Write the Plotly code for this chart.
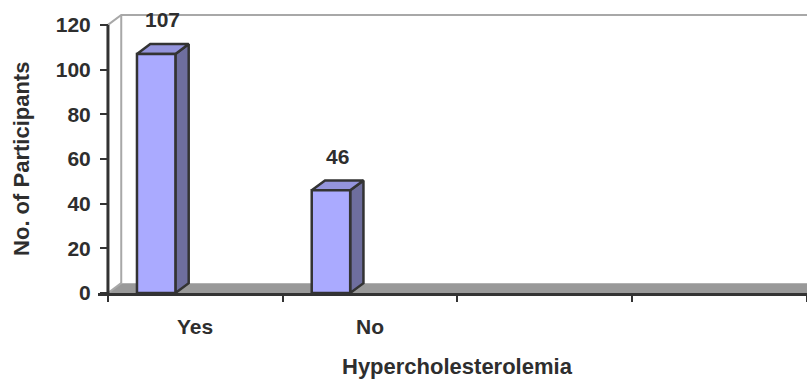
import plotly.graph_objects as go

# Data
categories = ["Yes", "No"]
participants = [107, 46]
n_slots = 4                      # category slots along the x axis (two left empty)
y_ticks = [0, 20, 40, 60, 80, 100, 120]

# 3-D look: depth offsets in axis units, bar footprint within a slot
DX, DY = 0.076, 4.4
BAR_X0, BAR_W = 0.166, 0.22
WALL_TOP = y_ticks[-1]
X_MIN = -0.057

FRONT, TOP, SIDE = "#AAAAFF", "#9494DC", "#6E6E9E"
EDGE = "#333333"
TEXT = "#2E2E2E"
FONT = "Liberation Sans, Arial, sans-serif"

fig = go.Figure()

def poly(xs, ys, fill, line_color=EDGE, line_width=2.5):
    fig.add_trace(go.Scatter(
        x=xs + [xs[0]], y=ys + [ys[0]], mode="lines", fill="toself",
        fillcolor=fill, line=dict(color=line_color, width=line_width),
        hoverinfo="skip", showlegend=False))

# floor
poly([0, n_slots + 0.2, n_slots + 0.2, DX], [0, 0, DY, DY], "#999999",
     line_color="rgba(0,0,0,0)", line_width=0)

# wall edges
fig.add_trace(go.Scatter(
    x=[0, DX, n_slots + 0.2, None, DX, DX, None, 0, DX],
    y=[WALL_TOP, WALL_TOP + DY, WALL_TOP + DY, None, WALL_TOP + DY, DY, None, 0, DY],
    mode="lines", line=dict(color="#A8A8A8", width=2),
    hoverinfo="skip", showlegend=False))

# bars: front, top and side faces
for i, v in enumerate(participants):
    x0 = i + BAR_X0
    x1 = x0 + BAR_W
    poly([x1, x1 + DX, x1 + DX, x1], [0, DY, v + DY, v], SIDE)
    poly([x0, x1, x1 + DX, x0 + DX], [v, v, v + DY, v + DY], TOP)
    poly([x0, x1, x1, x0], [0, 0, v, v], FRONT)
    fig.add_annotation(
        x=x0 + (BAR_W + DX) / 2, y=v, yshift=34, text=str(v), showarrow=False,
        font=dict(family=FONT, size=21, color=TEXT, weight="bold"))

# value axis line
fig.add_trace(go.Scatter(
    x=[0, 0], y=[0, WALL_TOP], mode="lines", line=dict(color=EDGE, width=3),
    hoverinfo="skip", showlegend=False))

# category labels
for i, c in enumerate(categories):
    fig.add_annotation(
        x=i + 0.5, xref="x", y=0, yref="paper", yshift=-33, yanchor="middle",
        text=c, showarrow=False,
        font=dict(family=FONT, size=21, color=TEXT, weight="bold"))

# axis titles
fig.add_annotation(
    x=n_slots / 2, xref="x", y=0, yref="paper", yshift=-73, yanchor="middle",
    text="Hypercholesterolemia", showarrow=False,
    font=dict(family=FONT, size=22, color=TEXT, weight="bold"))
fig.add_annotation(
    x=0, xref="paper", xshift=-76, y=WALL_TOP / 2, yref="y", xanchor="center",
    textangle=-90, text="No. of Participants", showarrow=False,
    font=dict(family=FONT, size=22, color=TEXT, weight="bold"))

fig.update_layout(
    width=807, height=382,
    margin=dict(l=98, r=0, t=7, b=89),
    paper_bgcolor="white", plot_bgcolor="white",
    xaxis=dict(
        range=[X_MIN, n_slots], showgrid=False, zeroline=False,
        showline=True, linecolor=EDGE, linewidth=3,
        tickvals=list(range(n_slots + 1)), ticks="outside", ticklen=6,
        tickwidth=2, tickcolor=EDGE, showticklabels=False, fixedrange=True),
    yaxis=dict(
        range=[0, 128], anchor="free", position=(0 - X_MIN) / (n_slots - X_MIN),
        showgrid=False, zeroline=False, showline=False,
        tickvals=y_ticks, ticks="outside", ticklen=8, tickwidth=2,
        tickcolor=EDGE, ticklabelstandoff=5,
        tickfont=dict(family=FONT, size=21, color=TEXT, weight="bold"),
        fixedrange=True),
)

fig.write_html("out.html")
